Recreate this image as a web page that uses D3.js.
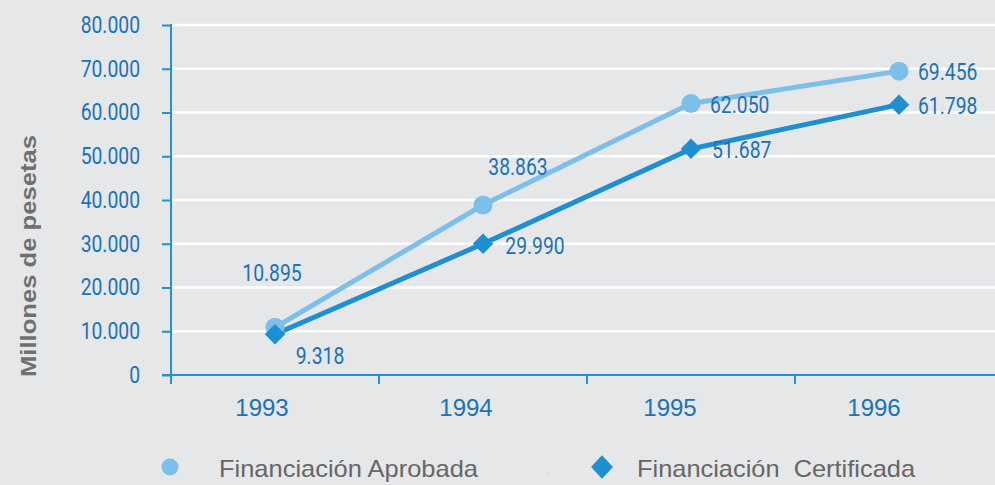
<!DOCTYPE html>
<html>
<head>
<meta charset="utf-8">
<script src="https://cdn.jsdelivr.net/npm/d3@7"></script>
<style>
  body { margin: 0; background: #e6e7e9; }
  svg { display: block; }
</style>
</head>
<body>
<div id="chart"></div>
<script>
var years = ["1993", "1994", "1995", "1996"];
var aprobada = [10895, 38863, 62050, 69456];
var certificada = [9318, 29990, 51687, 61798];
var yTicks = [0, 10000, 20000, 30000, 40000, 50000, 60000, 70000, 80000];
var seriesNames = ["Financiación Aprobada", "Financiación  Certificada"];

var svgWidth = 995;
var svgHeight = 485;
var light = "#7bbfea";
var dark = "#1e8fd0";
var axisColor = "#2391d2";
var numColor = "#1a72b8";
var numFont = "Roboto, 'Liberation Sans', sans-serif";
var squeeze = 0.84;

var svg = d3.select("#chart")
  .append("svg")
  .attr("width", svgWidth)
  .attr("height", svgHeight);

var x = d3.scaleBand().domain(years).range([171, 1003]);
var xLab = d3.scaleBand().domain(years).range([160, 976]);
var y = d3.scaleLinear().domain([0, 80000]).range([375, 25]);
var fmt = d => d3.format(",")(d).replace(/,/g, ".");

// gridlines
svg.append("g")
  .selectAll("line")
  .data(yTicks.slice(1))
  .enter()
  .append("line")
  .attr("x1", 171)
  .attr("x2", svgWidth)
  .attr("y1", d => y(d))
  .attr("y2", d => y(d))
  .attr("stroke", "#fff")
  .attr("stroke-width", 2.5);

// y axis
var yAxis = svg.append("g")
  .attr("transform", "translate(171,0)")
  .call(d3.axisLeft(y).tickValues(yTicks).tickFormat(fmt).tickSize(9));
yAxis.select(".domain").remove();
yAxis.append("line").attr("x1", 0).attr("x2", 0).attr("y1", 24).attr("y2", 384)
  .attr("stroke", axisColor).attr("stroke-width", 2);
yAxis.selectAll(".tick line").attr("stroke", axisColor).attr("stroke-width", 2);
yAxis.selectAll(".tick text")
  .attr("x", 0)
  .attr("transform", `translate(-31,0) scale(${squeeze},1)`)
  .attr("font-size", 23)
  .attr("font-family", numFont)
  .attr("fill", numColor);

// x axis
svg.append("line").attr("x1", 162).attr("x2", svgWidth).attr("y1", 375).attr("y2", 375)
  .attr("stroke", axisColor).attr("stroke-width", 2);
svg.append("g")
  .selectAll("line")
  .data(years.slice(1))
  .enter()
  .append("line")
  .attr("x1", d => x(d)).attr("x2", d => x(d))
  .attr("y1", 375).attr("y2", 384)
  .attr("stroke", axisColor).attr("stroke-width", 2);
var xAxis = svg.append("g")
  .attr("transform", "translate(0,375)")
  .call(d3.axisBottom(xLab).tickSize(0).tickPadding(24));
xAxis.select(".domain").remove();
xAxis.selectAll(".tick text")
  .attr("font-size", 24)
  .attr("font-family", "'Liberation Sans', Arial, sans-serif")
  .attr("fill", numColor);

var cx = d => x(d) + x.bandwidth() / 2;
var line = d3.line().x(d => cx(d.year)).y(d => y(d.value));
var apData = years.map((yr, i) => ({ year: yr, value: aprobada[i] }));
var ceData = years.map((yr, i) => ({ year: yr, value: certificada[i] }));

svg.append("path").datum(apData).attr("d", line)
  .attr("fill", "none").attr("stroke", light).attr("stroke-width", 5);
svg.append("path").datum(ceData).attr("d", line)
  .attr("fill", "none").attr("stroke", dark).attr("stroke-width", 5);

svg.selectAll("circle.ap")
  .data(apData)
  .enter()
  .append("circle")
  .attr("class", "ap")
  .attr("cx", d => cx(d.year))
  .attr("cy", d => y(d.value))
  .attr("r", 9.5)
  .attr("fill", light);

var diamond = d3.symbol().type(d3.symbolSquare).size(210);
svg.selectAll("path.ce")
  .data(ceData)
  .enter()
  .append("path")
  .attr("class", "ce")
  .attr("d", diamond)
  .attr("transform", d => `translate(${cx(d.year)},${y(d.value)}) rotate(45)`)
  .attr("fill", dark);

// value labels: [dx, dy, anchor]
var apOffsets = [[-3, -46, "middle"], [35, -30, "middle"], [19, 9, "start"], [19, 9, "start"]];
var ceOffsets = [[45, 30, "middle"], [52, 10, "middle"], [21, 9, "start"], [19, 9, "start"]];
function labels(data, offsets) {
  svg.append("g")
    .selectAll("text")
    .data(data)
    .enter()
    .append("text")
    .attr("transform", (d, i) => `translate(${cx(d.year) + offsets[i][0]},${y(d.value) + offsets[i][1]}) scale(${squeeze},1)`)
    .attr("text-anchor", (d, i) => offsets[i][2])
    .attr("font-size", 23)
    .attr("font-family", numFont)
    .attr("fill", numColor)
    .text(d => fmt(d.value));
}
labels(apData, apOffsets);
labels(ceData, ceOffsets);

// y label
svg.append("text")
  .attr("transform", "translate(36,256) rotate(-90)")
  .attr("text-anchor", "middle")
  .attr("font-size", 22)
  .attr("font-weight", "bold")
  .attr("font-family", "'Liberation Sans', Arial, sans-serif")
  .attr("fill", "#707070")
  .attr("textLength", 242)
  .attr("lengthAdjust", "spacingAndGlyphs")
  .text("Millones de pesetas");

// legend
var legend = svg.append("g");
legend.append("circle").attr("cx", 170).attr("cy", 467).attr("r", 8.5).attr("fill", light);
legend.append("path")
  .attr("d", d3.symbol().type(d3.symbolSquare).size(240))
  .attr("transform", "translate(602,467) scale(1,1.08) rotate(45)")
  .attr("fill", dark);
legend.append("text").attr("x", 547).attr("y", 474).attr("font-size", 8).attr("fill", "#999").text(".");
legend.selectAll("text.name")
  .data(seriesNames)
  .enter()
  .append("text")
  .attr("class", "name")
  .attr("x", (d, i) => i === 0 ? 219 : 637)
  .attr("y", 477)
  .attr("font-size", 24)
  .attr("font-family", "'Liberation Sans', Arial, sans-serif")
  .attr("fill", "#666")
  .attr("textLength", (d, i) => i === 0 ? 259 : 278)
  .attr("lengthAdjust", "spacingAndGlyphs")
  .style("white-space", "pre")
  .text(d => d);
</script>
</body>
</html>
